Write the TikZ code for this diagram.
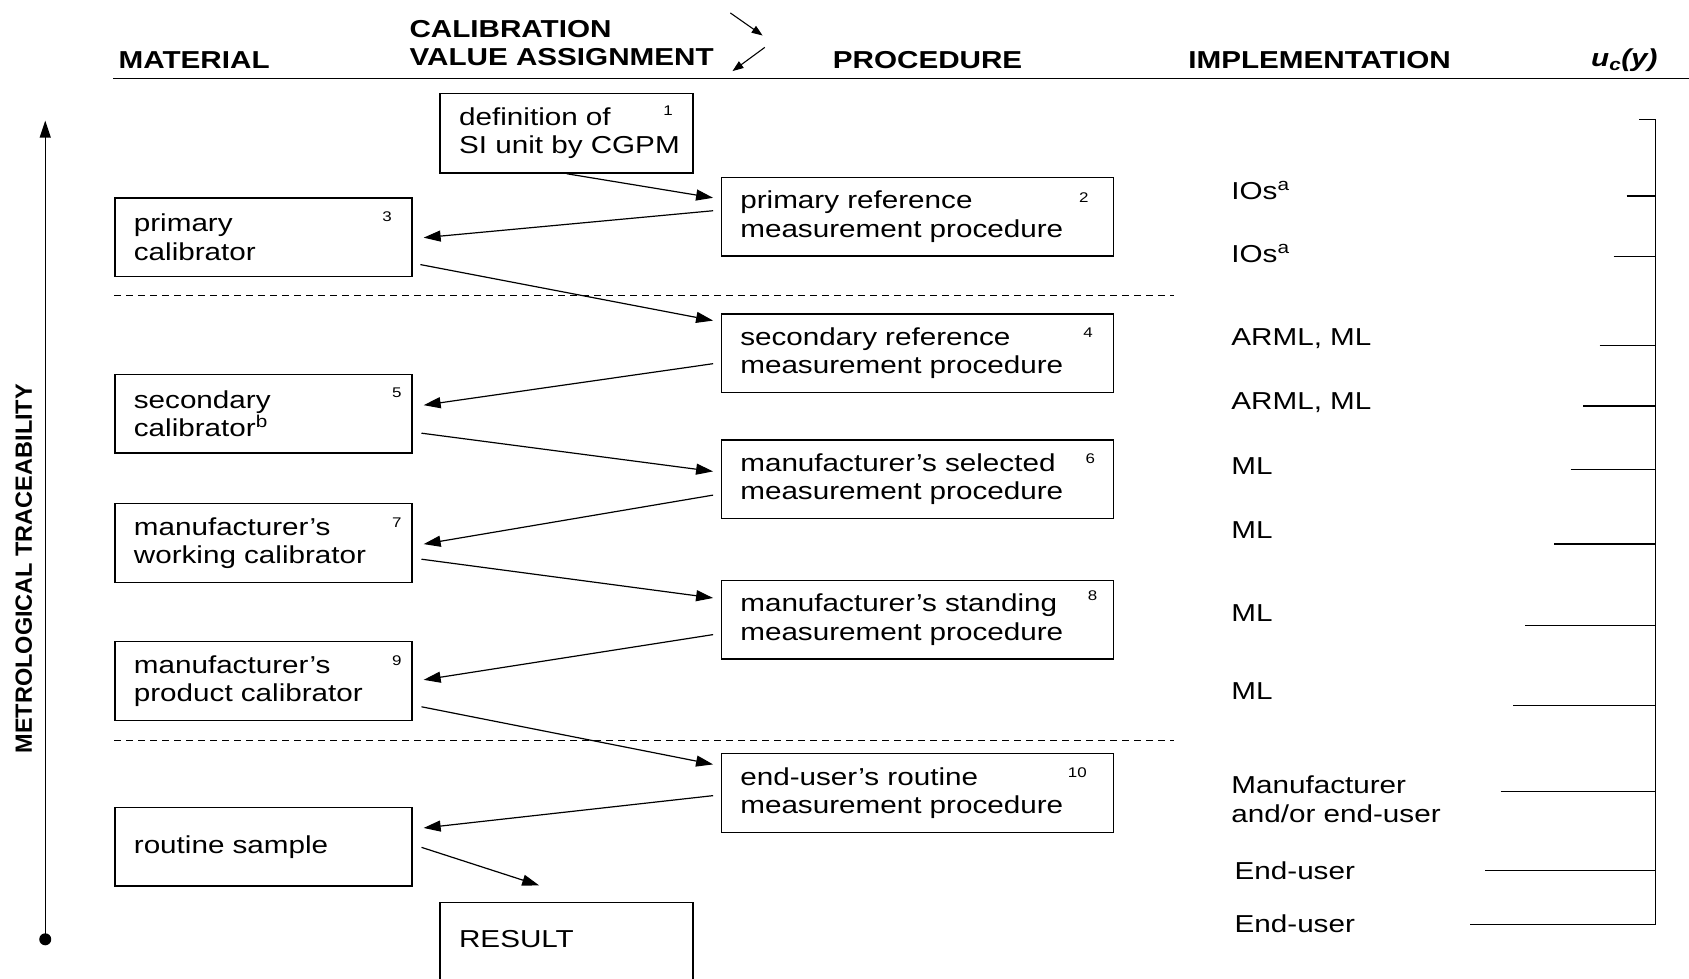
\documentclass[tikz,border=0pt]{standalone}
\usepackage{fontspec}
\setmainfont{Liberation Sans}[FakeStretch=1.21]
\newfontfamily\vfont{Liberation Sans}
\usetikzlibrary{arrows.meta}
\begin{document}
\begin{tikzpicture}[x=1.0772pt,y=-1.0772pt,
  every node/.style={font=\fontsize{24.5}{28.3}\selectfont, text=black},
  boxbase/.style={draw, line width=1.4pt, anchor=north west, minimum height=78.6pt, inner xsep=19pt, inner ysep=0pt, align=left},
  lbox/.style={boxbase, text width=259.3pt},
  rbox/.style={boxbase, text width=354pt},
  cbox/.style={boxbase, text width=215pt},
  num/.style={font=\fontsize{14}{16}\selectfont, inner sep=0pt},
  head/.style={font=\fontsize{24.5}{28}\selectfont\bfseries, inner sep=0pt, anchor=west, align=left},
  impl/.style={anchor=west, inner sep=0pt, align=left},
  arr/.style={line width=1.2pt, -{Triangle[length=17pt,width=11pt]}},
  harr/.style={line width=1.1pt, -{Triangle[length=11pt,width=8pt]}},
  sep/.style={line width=1pt, dash pattern=on 7pt off 5pt},
  tick/.style={line width=1.2pt}
]
\clip (0,0) rectangle (1568,908);
\fill[white] (0,0) rectangle (1568,908);

% header
\node[head] (hmat) at (110,56) {MATERIAL};
\node[head] (hcal) at (380,40) {CALIBRATION\\VALUE ASSIGNMENT};
\node[head] (hproc) at (773,56) {PROCEDURE};
\node[head] (himpl) at (1103,56) {IMPLEMENTATION};
\node[head] (huc) at (1477,56) {\itshape u\textsubscript{c}(y)};
\coordinate (hl0) at (105,73);
\coordinate (hl1) at (1568,73);
\draw[line width=1.5pt] (hl0) -- (hl1);
\coordinate (ha0) at (678,12);
\coordinate (ha1) at (708,33);
\coordinate (hb0) at (710,44);
\coordinate (hb1) at (680,66);
\draw[harr] (ha0) -- (ha1);
\draw[harr] (hb0) -- (hb1);

% traceability axis
\node[circle, fill=black, inner sep=0pt, minimum size=12pt] (dot) at (42,872) {};
\coordinate (axtop) at (42,112);
\draw[line width=1.4pt, -{Triangle[length=17pt,width=11pt]}] (dot.center) -- (axtop);
\node[rotate=90, inner sep=0pt, font=\vfont\fontsize{23.5}{26}\selectfont\bfseries] (trace) at (22,528) {METROLOGICAL TRACEABILITY};

% boxes
\node[cbox, minimum height=79.7pt] (b1) at (408,86) {\mbox{definition of}\\\mbox{SI unit by CGPM}};
\node[rbox] (b2) at (669,164) {primary reference\\measurement procedure};
\node[lbox] (b3) at (106,183) {primary\\calibrator};
\node[rbox] (b4) at (669,291) {secondary reference\\measurement procedure};
\node[lbox] (b5) at (106,347) {secondary\\calibrator\textsuperscript{b}};
\node[rbox] (b6) at (669,408) {manufacturer's selected\\measurement procedure};
\node[lbox] (b7) at (106,467) {manufacturer's\\working calibrator};
\node[rbox] (b8) at (669,538) {manufacturer's standing\\measurement procedure};
\node[lbox] (b9) at (106,595) {manufacturer's\\product calibrator};
\node[rbox] (b10) at (669,699) {end-user's routine\\measurement procedure};
\node[lbox] (b11) at (106,749) {routine sample};
\node[cbox, minimum height=110pt, anchor=north west] (res) at (408,837) {};
\node[anchor=west, inner sep=0pt] (reslabel) at (426,872) {RESULT};

% numbers
\node[num] (n1) at ([shift={(-24,17)}]b1.north east) {1};
\node[num] (n2) at ([shift={(-28,19)}]b2.north east) {2};
\node[num] (n3) at ([shift={(-24,18)}]b3.north east) {3};
\node[num] (n4) at ([shift={(-24,18)}]b4.north east) {4};
\node[num] (n5) at ([shift={(-15,18)}]b5.north east) {5};
\node[num] (n6) at ([shift={(-22,18)}]b6.north east) {6};
\node[num] (n7) at ([shift={(-15,18)}]b7.north east) {7};
\node[num] (n8) at ([shift={(-20,15)}]b8.north east) {8};
\node[num] (n9) at ([shift={(-15,18)}]b9.north east) {9};
\node[num] (n10) at ([shift={(-34,18)}]b10.north east) {10};

% separators
\coordinate (s1a) at (106,274); \coordinate (s1b) at (1090,274);
\coordinate (s2a) at (106,687); \coordinate (s2b) at (1090,687);
\draw[sep] (s1a) -- (s1b);
\draw[sep] (s2a) -- (s2b);

% arrows
\draw[arr] (b1.south) -- ([shift={(-7,-17.5)}]b2.west);
\draw[arr] ([shift={(-7,-5.5)}]b2.west) -- ([shift={(10,0.5)}]b3.east);
\draw[arr] ([shift={(7,25.5)}]b3.east) -- ([shift={(-7,-30.5)}]b4.west);
\draw[arr] ([shift={(-7,9.5)}]b4.west) -- ([shift={(10,-8)}]b5.east);
\draw[arr] ([shift={(8,18)}]b5.east) -- ([shift={(-7,-7.5)}]b6.west);
\draw[arr] ([shift={(-7,14.5)}]b6.west) -- ([shift={(10,1)}]b7.east);
\draw[arr] ([shift={(8,15)}]b7.east) -- ([shift={(-7,-20)}]b8.west);
\draw[arr] ([shift={(-7,14)}]b8.west) -- ([shift={(10,-1)}]b9.east);
\draw[arr] ([shift={(8,24)}]b9.east) -- ([shift={(-7,-26.5)}]b10.west);
\draw[arr] ([shift={(-7,2.5)}]b10.west) -- ([shift={(10,-17.5)}]b11.east);
\draw[arr] ([shift={(8,0.5)}]b11.east) -- ([shift={(-25.5,-15)}]res.north);

% implementation column
\node[impl] (i1) at (1143,177) {IOs\textsuperscript{a}};
\node[impl] (i2) at (1143,235) {IOs\textsuperscript{a}};
\node[impl] (i3) at (1143,314) {ARML, ML};
\node[impl] (i4) at (1143,374) {ARML, ML};
\node[impl] (i5) at (1143,433) {ML};
\node[impl] (i6) at (1143,492) {ML};
\node[impl] (i7) at (1143,569) {ML};
\node[impl] (i8) at (1143,642) {ML};
\node[impl] (i9) at (1143,742) {Manufacturer\\and/or end-user};
\node[impl] (i10) at (1146,808) {End-user};
\node[impl] (i11) at (1146,858) {End-user};

% uncertainty bracket
\coordinate (ut) at (1537,111);
\coordinate (ub) at (1537,858);
\draw[tick] (ut) -- (ub);
\foreach \yy/\xx in {111/1522,182/1510,238/1498,321/1485,377/1470,436/1458,505/1443,581/1416,655/1405,735/1393,808/1379,858/1365}
  \draw[tick] (\xx,\yy) -- (1537,\yy);
\end{tikzpicture}
\end{document}
